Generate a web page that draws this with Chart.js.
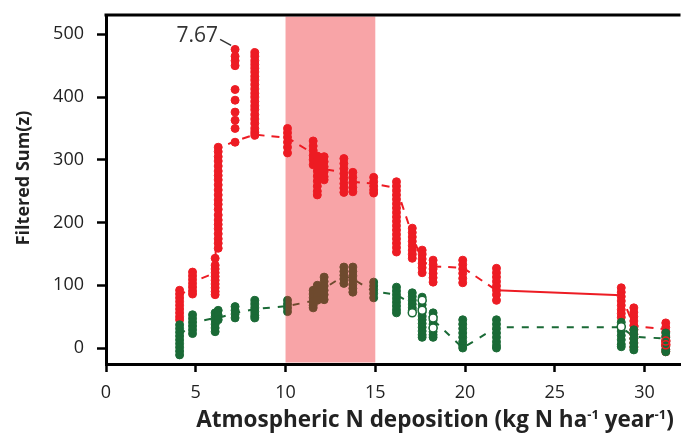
<!DOCTYPE html>
<html>
<head>
<meta charset="utf-8">
<script src="https://cdn.jsdelivr.net/npm/chart.js@4.4.1/dist/chart.umd.min.js"></script>
<style>
  html, body { margin: 0; padding: 0; background: #fff; overflow: hidden; }
  #wrap { width: 686px; height: 438px; }
</style>
</head>
<body>
<div id="wrap"><canvas id="graficoSumZ" width="686" height="438"></canvas></div>
<script>
// candidate change points (N deposition) and the filtered sum(z) read at each one
const nDeposition = [4.1, 4.82, 6.08, 6.25, 7.19, 8.29, 10.11, 11.54, 11.77, 12.15, 13.25, 13.75, 14.91, 16.18, 17.06, 17.61, 18.22, 19.87, 21.75, 28.7, 29.4, 31.18];

const sumZminus = [
  [92, 86, 80, 74, 68, 62, 56, 50, 45],
  [121, 115, 109, 103, 97, 91, 86],
  [143, 132, 126, 120, 114, 108, 102, 96, 90, 85],
  [320, 313, 305, 298, 290, 282, 275, 268, 260, 252, 244, 236, 229, 221, 212, 204, 197, 190, 182, 174, 167, 159],
  [476, 465, 458, 450, 412, 395, 376, 363, 350, 328],
  [471, 465, 458, 452, 446, 440, 433, 427, 420, 413, 406, 400, 393, 386, 380, 372, 365, 358, 350, 344, 339],
  [350, 343, 336, 328, 320, 311],
  [330, 322, 315, 307, 300, 292],
  [306, 298, 290, 282, 274, 266, 258, 250, 244],
  [305, 297, 289, 281, 273, 268],
  [302, 294, 286, 278, 270, 262, 255, 248],
  [280, 272, 264, 256, 249],
  [272, 265, 258, 252, 247],
  [265, 258, 251, 244, 237, 230, 223, 216, 209, 202, 195, 188, 181, 174, 167, 160, 153],
  [191, 184, 177, 170, 163, 156, 149, 143],
  [156, 149, 142, 135, 128, 120],
  [140, 133, 126, 119, 112, 105],
  [140, 133, 126, 119, 111, 104],
  [127, 120, 113, 106, 99, 92, 85, 76],
  [96, 89, 82, 75, 68, 61, 55, 49],
  [64, 57, 50, 43, 36, 29, 22, 15, 8, 1],
  [40, 33, 26, 19, 12, 5, -2, -6]
];

const sumZplus = [
  [37, 31, 25, 19, 13, 7, 1, -5, -11],
  [53, 47, 41, 35, 29, 23],
  [56, 50, 44, 38, 32, 26],
  [60, 52, 45],
  [66, 60, 54, 48],
  [76, 70, 64, 58, 52, 48],
  [76, 70, 64, 58],
  [92, 86, 80, 74, 68, 64],
  [100, 94, 88, 82, 76],
  [113, 106, 99, 92, 85, 77],
  [129, 122, 116, 110, 103],
  [129, 122, 115, 108, 101, 95, 89],
  [105, 99, 93, 87, 80],
  [97, 91, 85, 79, 73, 67, 61, 56],
  [88, 82, 76, 70, 64, 60],
  [81, 75, 69, 63, 57, 51, 45, 39, 33, 27, 21, 17],
  [56, 50, 44, 38, 32, 26, 21, 17],
  [45, 38, 31, 24, 17, 10, 4, 0],
  [45, 38, 31, 24, 17, 10, 4, 0],
  [41, 34, 27, 20, 13, 6, 2],
  [29, 22, 15, 8, 2, -3],
  [24, 17, 10, 3, -3, -6]
];

// where the connecting dashed lines pass at each candidate
const pathZminus = [80, 105, 120, 318, 330, 340, 335, 310, 280, 285, 280, 265, 262, 255, 180, 138, 130, 128, 92, 84, 35, 30];
const pathZplus = [20, 40, 48, 48, 56, 62, 67, 75, 88, 95, 115, 110, 90, 85, 70, 50, 45, 0, 33, 33, 18, 15];

// hollow markers
const openNplus = [17.06, 17.61, 17.61, 18.22, 18.22, 28.7];
const openZplus = [56, 76, 60, 48, 32, 34];
const openNminus = [31.18, 31.18];
const openZminus = [11, 5];

const bandRange = [10, 15];
const peakLabel = "7.67";
const xTicks = [0, 5, 10, 15, 20, 25, 30];
const yTicks = [0, 100, 200, 300, 400, 500];
const xTitle = [["Atmospheric N deposition (kg N ha", false], ["-1", true], [" year", false], ["-1", true], [")", false]];
const yTitle = "Filtered Sum(z)";

const VERMELHO = "#ED1C24";
const VERDE = "#1A6A36";
const FONTE = "'Open Sans', 'Noto Sans', sans-serif";

function columnPoints(xs, cols) {
  const pts = [];
  cols.forEach((vals, i) => vals.forEach(v => pts.push({ x: xs[i], y: v })));
  return pts;
}
function pairs(xs, ys) {
  return xs.map((x, i) => ({ x: x, y: ys[i] }));
}

// band, top frame, peak label and axis titles
const extras = {
  id: "extras",
  afterDatasetsDraw(chart) {
    const { ctx, chartArea, scales } = chart;
    const xs = scales.x, ys = scales.y;
    ctx.save();
    // shaded band over the points
    const b0 = xs.getPixelForValue(bandRange[0]);
    const b1 = xs.getPixelForValue(bandRange[1]);
    ctx.fillStyle = "rgba(237, 28, 36, 0.4)";
    ctx.fillRect(b0, chartArea.top + 1.5, b1 - b0, chartArea.bottom - chartArea.top - 3);

    // top frame line
    ctx.strokeStyle = "#000";
    ctx.lineWidth = 3;
    ctx.beginPath();
    ctx.moveTo(chartArea.left - 1.5, chartArea.top);
    ctx.lineTo(chartArea.right, chartArea.top);
    ctx.stroke();

    // peak label with leader
    let best = -Infinity, bi = 0;
    sumZminus.forEach((vals, i) => vals.forEach(v => { if (v > best) { best = v; bi = i; } }));
    const px = xs.getPixelForValue(nDeposition[bi]);
    const py = ys.getPixelForValue(best);
    ctx.strokeStyle = "#333";
    ctx.lineWidth = 1.5;
    ctx.beginPath();
    ctx.moveTo(px - 4, py - 4);
    ctx.lineTo(px - 15, py - 10);
    ctx.stroke();
    ctx.fillStyle = "#333";
    ctx.font = "21px " + FONTE;
    ctx.textAlign = "right";
    ctx.textBaseline = "middle";
    ctx.fillText(peakLabel, px - 17, py - 13);

    // x title with superscripts
    const big = "bold 22.5px " + FONTE, small = "bold 13px " + FONTE;
    let total = 0;
    xTitle.forEach(([t, sup]) => { ctx.font = sup ? small : big; total += ctx.measureText(t).width; });
    let tx = 435 - total / 2;
    const ty = 421;
    ctx.fillStyle = "#222";
    ctx.textAlign = "left";
    xTitle.forEach(([t, sup]) => {
      ctx.font = sup ? small : big;
      ctx.fillText(t, tx, sup ? ty - 6 : ty);
      tx += ctx.measureText(t).width;
    });

    // y title
    ctx.translate(24, 178);
    ctx.rotate(-Math.PI / 2);
    ctx.font = "bold 18px " + FONTE;
    ctx.textAlign = "center";
    ctx.fillText(yTitle, 0, 0);
    ctx.restore();
  }
};

const pontos = {
  showLine: false,
  pointRadius: 4,
  pointBorderWidth: 1
};

new Chart(document.getElementById("graficoSumZ"), {
  type: "scatter",
  data: {
    datasets: [
      Object.assign({}, pontos, {
        label: "z- hollow",
        data: pairs(openNminus, openZminus),
        pointBackgroundColor: "rgba(0,0,0,0)",
        pointBorderColor: VERMELHO,
        pointBorderWidth: 1.5
      }),
      Object.assign({}, pontos, {
        label: "z+ hollow",
        data: pairs(openNplus, openZplus),
        pointBackgroundColor: "#fff",
        pointBorderColor: VERDE,
        pointBorderWidth: 1.5
      }),
      Object.assign({}, pontos, {
        label: "z+",
        data: columnPoints(nDeposition, sumZplus),
        pointBackgroundColor: VERDE,
        pointBorderColor: VERDE
      }),
      Object.assign({}, pontos, {
        label: "z-",
        data: columnPoints(nDeposition, sumZminus),
        pointBackgroundColor: VERMELHO,
        pointBorderColor: VERMELHO
      }),
      {
        label: "z+ path",
        data: pairs(nDeposition, pathZplus),
        showLine: true,
        pointRadius: 0,
        borderColor: VERDE,
        borderWidth: 2,
        borderDash: [7, 8]
      },
      {
        label: "z- path",
        data: pairs(nDeposition, pathZminus),
        showLine: true,
        pointRadius: 0,
        borderColor: VERMELHO,
        borderWidth: 2,
        segment: {
          borderDash: c => (c.p1.parsed.x - c.p0.parsed.x > 5 ? [] : [8, 7])
        }
      }
    ]
  },
  options: {
    responsive: false,
    animation: false,
    devicePixelRatio: 1,
    events: [],
    layout: { padding: { top: 15, right: 0, left: 0, bottom: 0 } },
    plugins: { legend: { display: false }, tooltip: { enabled: false } },
    scales: {
      x: {
        type: "linear",
        position: "bottom",
        min: 0,
        max: 32,
        afterBuildTicks: s => { s.ticks = xTicks.map(v => ({ value: v })); },
        afterFit: s => { s.height = 74; s.paddingLeft = 0; s.paddingRight = 0; },
        ticks: { color: "#222", padding: 10, maxRotation: 0, font: { family: FONTE, size: 18 } },
        grid: { drawOnChartArea: false, drawTicks: true, tickLength: 8, tickWidth: 2.5, tickColor: "#000" },
        border: { display: true, color: "#000", width: 3 }
      },
      y: {
        type: "linear",
        min: -25.5,
        max: 530.8,
        afterBuildTicks: s => { s.ticks = yTicks.map(v => ({ value: v })); },
        afterFit: s => { s.width = 106; s.paddingTop = 0; s.paddingBottom = 0; },
        ticks: { color: "#222", padding: 13, font: { family: FONTE, size: 18 } },
        grid: { drawOnChartArea: false, drawTicks: true, tickLength: 9, tickWidth: 2.5, tickColor: "#000" },
        border: { display: true, color: "#000", width: 3 }
      }
    }
  },
  plugins: [extras]
});
</script>
</body>
</html>
